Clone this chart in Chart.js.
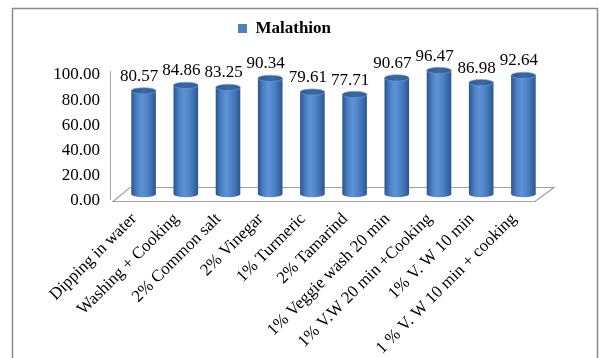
<!DOCTYPE html>
<html>
<head>
<meta charset="utf-8">
<script src="https://cdn.jsdelivr.net/npm/chart.js@4.4.1/dist/chart.umd.min.js"></script>
<style>
  html, body { margin: 0; padding: 0; background: #ffffff; }
  #wrap { width: 599px; height: 358px; position: relative; }
</style>
</head>
<body>
<div id="wrap"><canvas id="c"></canvas></div>
<script>
// Pesticide residue removal (%) by treatment
const categories = [
  'Dipping in water',
  'Washing + Cooking',
  '2% Common salt',
  '2% Vinegar',
  '1% Turmeric',
  '2% Tamarind',
  '1% Veggie wash 20 min',
  '1% V.W 20 min +Cooking',
  '1% V. W 10 min',
  '1 % V. W 10 min + cooking'
];
const seriesName = 'Malathion';
const malathion = [80.57, 84.86, 83.25, 90.34, 79.61, 77.71, 90.67, 96.47, 86.98, 92.64];
const yTicks = [0, 20, 40, 60, 80, 100];

const SERIF = '"Liberation Serif", "Times New Roman", serif';
const BAR_BLUE = '#4f81bd';

// depth of the 3-D floor (back edge offset from front edge)
const DEPTH_X = 19;
const DEPTH_Y = 14;

// outer frame around the whole figure
const framePlugin = {
  id: 'frame',
  beforeDraw(chart) {
    const ctx = chart.ctx;
    ctx.save();
    ctx.fillStyle = '#ffffff';
    ctx.fillRect(0, 0, chart.width, chart.height);
    ctx.strokeStyle = '#8a8a8a';
    ctx.lineWidth = 1.5;
    ctx.strokeRect(12.5, 8.5, 585, 420);
    ctx.restore();
  }
};

// floor, cylinders and value labels
const cylinderPlugin = {
  id: 'cylinders',
  beforeDatasetsDraw(chart) {
    const ctx = chart.ctx;
    const area = chart.chartArea;
    const yScale = chart.scales.y;
    const base = yScale.getPixelForValue(0);

    ctx.save();
    // left wall edge
    ctx.strokeStyle = '#a6a6a6';
    ctx.lineWidth = 1;
    ctx.beginPath();
    ctx.moveTo(area.left - 2.5, yScale.getPixelForValue(100) - 4);
    ctx.lineTo(area.left - 2.5, base - 1);
    ctx.stroke();

    // floor parallelogram
    ctx.beginPath();
    ctx.moveTo(area.left, base + 0.5);
    ctx.lineTo(area.right, base + 0.5);
    ctx.lineTo(area.right + DEPTH_X, base - DEPTH_Y + 0.5);
    ctx.lineTo(area.left + DEPTH_X - 2, base - DEPTH_Y + 0.5);
    ctx.closePath();
    ctx.strokeStyle = '#a0a0a0';
    ctx.lineWidth = 1.2;
    ctx.stroke();

    const meta = chart.getDatasetMeta(0);
    const ds = chart.data.datasets[0];
    meta.data.forEach((el, i) => {
      const cx = el.x + DEPTH_X / 2;
      const r = 12.3;
      const ry = 3.2;
      const bottomY = base - DEPTH_Y / 2;
      const topY = bottomY - 1.016 * (base - el.y);

      // body with horizontal shading
      const g = ctx.createLinearGradient(cx - r, 0, cx + r, 0);
      g.addColorStop(0, '#2a5590');
      g.addColorStop(0.22, '#4a80c4');
      g.addColorStop(0.42, '#5e94d6');
      g.addColorStop(0.7, '#4a7ec1');
      g.addColorStop(1, '#2b5792');
      ctx.beginPath();
      ctx.moveTo(cx - r, topY);
      ctx.lineTo(cx - r, bottomY);
      ctx.ellipse(cx, bottomY, r, ry, 0, Math.PI, 0, true);
      ctx.lineTo(cx + r, topY);
      ctx.closePath();
      ctx.fillStyle = g;
      ctx.fill();

      // top face
      const tg = ctx.createLinearGradient(cx - r, topY, cx + r, topY);
      tg.addColorStop(0, '#2d5a94');
      tg.addColorStop(0.5, '#3a69a6');
      tg.addColorStop(1, '#2f5c96');
      ctx.beginPath();
      ctx.ellipse(cx, topY, r, ry, 0, 0, Math.PI * 2);
      ctx.fillStyle = tg;
      ctx.fill();
      ctx.strokeStyle = 'rgba(120,160,215,0.8)';
      ctx.lineWidth = 0.8;
      ctx.stroke();

      // value label
      ctx.fillStyle = '#000000';
      ctx.font = '17px ' + SERIF;
      ctx.textAlign = 'center';
      ctx.textBaseline = 'alphabetic';
      ctx.fillText(ds.data[i].toFixed(2), cx - 4.5, topY - 10);
    });
    ctx.restore();
    return false;
  }
};

new Chart(document.getElementById('c'), {
  type: 'bar',
  data: {
    labels: categories,
    datasets: [{
      label: seriesName,
      data: malathion,
      backgroundColor: BAR_BLUE,
      borderWidth: 0
    }]
  },
  options: {
    responsive: true,
    maintainAspectRatio: false,
    animation: false,
    devicePixelRatio: 1,
    layout: { padding: { left: 34, right: 64, top: 10, bottom: 0 } },
    plugins: {
      legend: {
        display: true,
        position: 'top',
        labels: {
          boxWidth: 9,
          boxHeight: 9,
          color: '#000000',
          padding: 10,
          font: { family: SERIF, size: 17, weight: 'bold' }
        }
      },
      // empty spacer between the legend and the plot
      subtitle: {
        display: true,
        text: '',
        weight: 500,
        padding: { top: 16, bottom: 0 },
        font: { size: 10 }
      },
      tooltip: { enabled: false }
    },
    scales: {
      x: {
        offset: true,
        grid: { display: false, drawTicks: false },
        border: { display: false },
        ticks: {
          color: '#000000',
          minRotation: 45,
          maxRotation: 45,
          autoSkip: false,
          padding: 8,
          font: { family: SERIF, size: 17 }
        },
        afterFit(scale) { scale.height = 157; }
      },
      y: {
        min: 0,
        max: 100,
        grid: { display: false, drawTicks: false },
        border: { display: false },
        afterBuildTicks(scale) { scale.ticks = yTicks.map(v => ({ value: v })); },
        afterFit(scale) { scale.width = 79; },
        ticks: {
          color: '#000000',
          padding: 13,
          font: { family: SERIF, size: 17 },
          callback: (v) => Number(v).toFixed(2)
        }
      }
    }
  },
  plugins: [framePlugin, cylinderPlugin]
});
</script>
</body>
</html>
